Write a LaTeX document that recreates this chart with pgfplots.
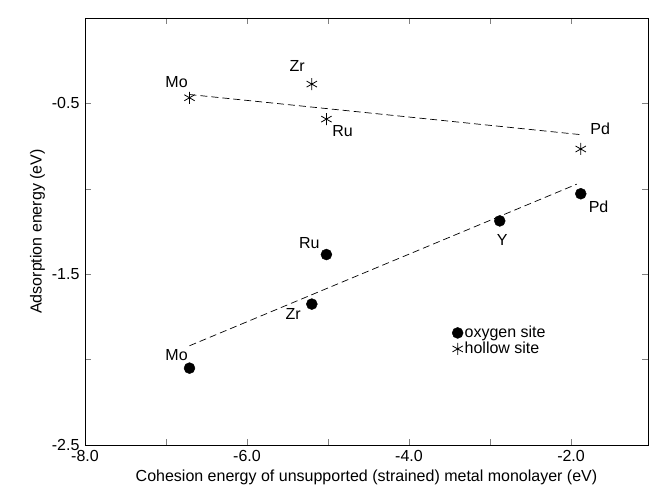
\documentclass[border=0pt]{standalone}
\usepackage{fontspec}
\setmainfont{Liberation Sans}
\usepackage{pgfplots}
\pgfplotsset{compat=1.18}
\begin{document}
\fontsize{16}{19}\selectfont
\begin{tikzpicture}
\useasboundingbox (-85pt,-47pt) rectangle (564pt,445pt);
\begin{axis}[
    scale only axis,
    width=563pt, height=427pt,
    xmin=-8, xmax=-1.05,
    ymin=-2.5, ymax=0,
    xtick={-8,-6,-4,-2},
    xticklabels={-8.0,-6.0,-4.0,-2.0},
    minor xtick={-7,-5,-3},
    ytick={-2.5,-1.5,-0.5},
    yticklabels={-2.5,-1.5,-0.5},
    minor ytick={-2,-1},
    tick align=inside,
    major tick length=6pt, minor tick length=6pt,
    /pgf/number format/assume math mode=true,
    xlabel={Cohesion energy of unsupported (strained) metal monolayer (eV)},
    ylabel={Adsorption energy (eV)},
    xlabel style={yshift=3pt},
    ylabel style={yshift=-4pt},
    legend style={draw=none, fill=none, at={(axis cs:-3.47,-1.79)}, anchor=north west,
        row sep=-2pt, inner sep=0pt, nodes={inner xsep=1.5pt}},
    legend cell align=left,
    legend image code/.code={\draw[#1] plot coordinates {(0.3em,0cm)};},
    clip=false,
]
\addplot[only marks, mark=*, mark size=5.5pt, black] coordinates {
(-6.71,-2.05) (-5.20,-1.675) (-5.02,-1.385) (-2.88,-1.188) (-1.88,-1.029)
};
\addlegendentry{oxygen site}
\addplot[only marks, mark=asterisk, mark size=6pt, black, line width=0.8pt] coordinates {
(-6.71,-0.467) (-5.20,-0.387) (-5.02,-0.592) (-1.88,-0.767)
};
\addlegendentry{hollow site}
\addplot[black, line width=0.7pt, dash pattern=on 7pt off 4pt, forget plot] coordinates {(-6.71,-0.448) (-1.88,-0.683)};
\addplot[black, line width=0.7pt, dash pattern=on 7pt off 4pt, forget plot] coordinates {(-6.71,-1.919) (-1.93,-0.973)};

\node at (axis cs:-6.87,-0.377) {Mo};
\node at (axis cs:-5.38,-0.281) {Zr};
\node at (axis cs:-4.82,-0.66) {Ru};
\node at (axis cs:-1.64,-0.65) {Pd};
\node at (axis cs:-6.87,-1.973) {Mo};
\node at (axis cs:-5.43,-1.733) {Zr};
\node at (axis cs:-5.23,-1.317) {Ru};
\node at (axis cs:-2.85,-1.30) {Y};
\node at (axis cs:-1.66,-1.106) {Pd};
\end{axis}
\end{tikzpicture}
\end{document}
